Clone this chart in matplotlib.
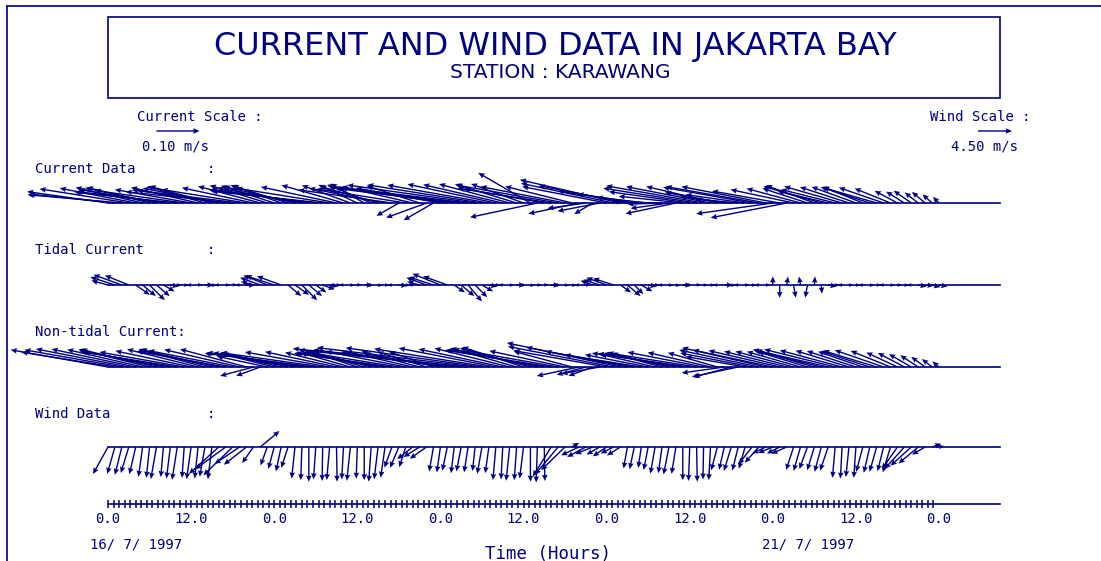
import numpy as np
import matplotlib
matplotlib.use("Agg")
import matplotlib.pyplot as plt

navy = "#000080"
W, H = 1101, 561

# hourly records, 16/7/1997 00:00 -> 21/7/1997 00:00
hours = np.arange(0, 121)

# current data: speed (cm/s), direction towards (deg from north)
cur_spd = [19, 20, 22, 21, 18, 16, 15, 17, 20, 22, 24, 21, 18, 16, 14, 15, 18, 22, 25, 24, 20, 17, 15, 14,
           13, 12, 14, 17, 20, 23, 25, 26, 22, 18, 15, 12, 10, 9, 11, 14, 18, 22, 6, 21, 17, 13, 10, 8,
           20, 25, 28, 31, 33, 30, 27, 24, 21, 19, 17, 15, 13, 14, 16, 19, 22, 24, 20, 16, 12, 9, 5, 10,
           20, 22, 24, 21, 18, 15, 12, 10, 8, 9, 12, 15, 19, 22, 23, 20, 17, 14, 12, 10, 14, 21, 22, 20,
           18, 16, 18, 15, 13, 11, 12, 14, 12, 13, 14, 12, 11, 10, 12, 13, 11, 9, 6, 5, 5, 4, 4, 3, 2]
cur_dir = [278, 276, 275, 279, 281, 283, 284, 282, 279, 277, 276, 278, 280, 283, 286, 285, 281, 278, 276, 277, 279, 282, 285, 287,
           288, 290, 287, 283, 280, 278, 277, 276, 279, 282, 286, 290, 295, 300, 293, 286, 281, 278, 240, 279, 283, 288, 250, 240,
           280, 278, 277, 277, 277, 278, 279, 280, 282, 283, 285, 287, 290, 300, 258, 280, 279, 280, 281, 284, 258, 262, 239, 259,
           281, 282, 283, 281, 279, 278, 276, 272, 268, 262, 258, 276, 278, 279, 280, 281, 283, 280, 277, 275, 278, 280, 280, 281,
           262, 280, 259, 282, 285, 288, 290, 286, 283, 284, 286, 288, 290, 292, 288, 286, 289, 292, 298, 302, 305, 308, 310, 312, 315]

# tidal current
tid_spd = [4, 6, 7, 6, 4, 4, 5, 4, 3, 2, 1, 1, 1, 1, 2, 1, 1, 1, 1, 1, 2, 3, 5, 6,
           7, 6, 4, 4, 5, 4, 3, 3, 2, 1, 1, 1, 1, 2, 1, 1, 1, 1, 2, 1, 1, 3, 5, 6,
           7, 6, 3, 4, 5, 4, 3, 2, 1, 1, 1, 2, 1, 1, 1, 1, 2, 1, 1, 1, 1, 1, 3, 4,
           5, 5, 3, 4, 3, 3, 2, 1, 1, 1, 1, 2, 1, 1, 1, 1, 1, 2, 1, 1, 1, 1, 1, 1,
           2, 3, 2, 3, 2, 3, 2, 2, 2, 1, 1, 1, 1, 1, 1, 1, 1, 1, 1, 1, 1, 2, 2, 2, 2]
tid_dir = [285, 288, 290, 292, 125, 130, 135, 130, 120, 100, 90, 95, 270, 85, 90, 100, 270, 90, 80, 270, 90, 285, 290, 292,
           288, 290, 130, 125, 135, 130, 125, 110, 100, 90, 270, 95, 85, 90, 270, 100, 90, 270, 95, 90, 270, 285, 290, 288,
           292, 290, 125, 130, 140, 135, 120, 100, 90, 270, 95, 90, 270, 100, 90, 85, 90, 270, 95, 100, 270, 90, 290, 288,
           290, 288, 125, 130, 135, 120, 100, 90, 270, 95, 100, 90, 270, 85, 90, 95, 270, 90, 100, 270, 90, 95, 270, 90,
           0, 180, 10, 170, 350, 190, 5, 175, 100, 90, 270, 95, 90, 270, 100, 90, 270, 95, 90, 100, 270, 100, 95, 105, 100]

# non-tidal current
res_spd = [23, 22, 23, 22, 20, 18, 17, 18, 20, 21, 22, 20, 18, 17, 16, 17, 19, 21, 20, 18, 16, 8, 6, 12,
           13, 14, 16, 18, 21, 24, 26, 24, 20, 17, 14, 12, 11, 13, 15, 18, 21, 23, 22, 19, 16, 14, 12, 11,
           18, 25, 33, 38, 41, 37, 32, 27, 23, 20, 18, 16, 15, 17, 20, 23, 25, 22, 18, 14, 10, 7, 6, 9,
           22, 25, 27, 24, 21, 18, 15, 13, 12, 14, 17, 20, 23, 21, 18, 15, 12, 10, 9, 11, 14, 17, 19, 20,
           19, 17, 15, 14, 13, 12, 14, 16, 18, 17, 15, 13, 12, 11, 12, 13, 12, 10, 8, 7, 6, 5, 4, 3, 2]
res_dir = [280, 279, 280, 281, 282, 283, 284, 283, 281, 280, 279, 280, 282, 284, 285, 284, 282, 280, 281, 283, 285, 255, 250, 282,
           284, 283, 282, 280, 279, 278, 277, 278, 280, 282, 284, 286, 288, 286, 284, 281, 279, 278, 279, 281, 283, 285, 287, 289,
           280, 278, 277, 276, 276, 277, 278, 279, 281, 282, 284, 286, 288, 285, 282, 280, 279, 280, 282, 285, 258, 255, 250, 260,
           280, 281, 282, 281, 280, 279, 281, 283, 285, 283, 281, 279, 278, 279, 281, 283, 286, 262, 255, 258, 280, 281, 282, 283,
           282, 283, 284, 285, 286, 287, 286, 284, 283, 284, 285, 287, 288, 289, 288, 287, 289, 292, 295, 298, 300, 303, 306, 308, 310]

# wind: speed (m/s), direction towards (deg from north)
wind_spd = [4.1, 3.7, 3.8, 3.6, 3.7, 4.0, 4.1, 4.3, 4.0, 4.2, 4.4, 4.1, 4.3, 4.2, 4.0, 4.3,
            5.3, 5.0, 5.4, 4.0, 3.8, 2.6, 3.3, 2.6, 3.0, 3.3, 2.9,
            4.2, 4.4, 4.6, 4.3, 4.5, 4.4, 4.6, 4.3, 4.5, 4.2, 4.4, 4.6, 4.3, 4.1,
            2.9, 3.0, 2.8, 2.6, 2.5, 2.7, 3.3, 3.4, 3.2, 3.5, 3.3, 3.4, 3.2, 3.6, 3.5,
            4.4, 4.3, 4.5, 4.4, 4.2, 4.6, 4.7, 4.5, 4.6, 4.8, 4.4, 1.1, 2.6, 2.8, 2.5,
            2.0, 2.2, 1.9, 2.1, 2.9, 3.0, 2.8, 3.1, 3.6, 3.5, 3.7, 3.6,
            4.4, 4.5, 4.6, 4.3, 4.4, 3.2, 3.1, 3.3, 3.2, 3.0, 2.9, 2.8,
            2.0, 2.1, 1.9, 2.2, 3.2, 3.3, 3.1, 3.2, 3.4, 3.3, 4.1, 4.2, 4.0, 4.1,
            3.4, 3.5, 3.4, 3.3, 3.5, 3.6, 3.9, 3.7, 3.4, 2.0, 1.3, 0.7]
wind_dir = [209, 196, 194, 197, 193, 188, 186, 190, 185, 187, 189, 184, 188, 186, 190, 187,
            228, 234, 226, 236, 232, 215, 50, 200, 195, 192, 198,
            186, 182, 180, 184, 181, 185, 179, 183, 186, 182, 180, 184, 187, 188,
            200, 203, 198, 232, 238, 235, 190, 188, 192, 187, 191, 189, 186, 190, 188,
            185, 183, 186, 184, 187, 180, 182, 179, 212, 220, 226, 60, 245, 242, 248,
            240, 236, 243, 238, 190, 192, 188, 191, 190, 188, 191, 189,
            180, 182, 179, 181, 183, 195, 193, 197, 194, 196, 218, 222,
            245, 248, 243, 246, 198, 196, 200, 197, 195, 199, 185, 183, 186, 184,
            195, 193, 196, 194, 197, 215, 222, 228, 230, 240, 70, 80]

tick_hours = np.arange(0, 121, 12)
tick_labels = ["0.0", "12.0", "0.0", "12.0", "0.0", "12.0", "0.0", "12.0", "0.0", "12.0", "0.0"]


def uv(spd, dirn):
    s = np.asarray(spd, float)
    d = np.radians(np.asarray(dirn, float))
    return s * np.sin(d), s * np.cos(d)


px_per_h = 83.1 / 12
x0 = 108

fig = plt.figure(figsize=(W / 100, H / 100), dpi=100)
ax = fig.add_axes([0, 0, 1, 1])
ax.set_xlim(-x0 / px_per_h, (W - x0) / px_per_h)
ax.set_ylim(0, H)
ax.axis("off")

t_end = (1000 - x0) / px_per_h
rows = {"cur": H - 203, "tid": H - 285, "res": H - 367, "wind": H - 447}

qkw = dict(angles="uv", scale_units="inches", units="dots", width=1.4,
           headwidth=4, headlength=4.5, headaxislength=4, minlength=0.3,
           color=navy, pivot="tail", zorder=3)

cur_scale = 10 / 0.43     # 0.10 m/s -> 43 px
wind_scale = 4.5 / 0.34   # 4.50 m/s -> 34 px

for key, spd, dirn in [("cur", cur_spd, cur_dir), ("tid", tid_spd, tid_dir), ("res", res_spd, res_dir)]:
    u, v = uv(spd, dirn)
    ax.plot([0, t_end], [rows[key]] * 2, color=navy, lw=1.2)
    q = ax.quiver(hours, np.full(len(hours), rows[key]), u, v, scale=cur_scale, **qkw)
    if key == "cur":
        q_cur = q

u, v = uv(wind_spd, wind_dir)
ax.plot([0, t_end], [rows["wind"]] * 2, color=navy, lw=1.2)
q_wind = ax.quiver(hours, np.full(len(hours), rows["wind"]), u, v, scale=wind_scale, **qkw)

# time axis
ya = H - 504
ax.plot([0, t_end], [ya, ya], color=navy, lw=1.2)
ax.plot(np.arange(0, 120, 0.8), np.full(150, ya), "|", color=navy, ms=6, mew=1.1)

mono = dict(family="DejaVu Sans Mono", color=navy, fontsize=10)
for th, lab in zip(tick_hours, tick_labels):
    ax.text(th, H - 523, lab, ha="center", va="baseline", **mono)


def ftext(xp, yp, s, **kw):
    fig.text(xp / W, 1 - yp / H, s, **kw)


ftext(90, 548, "16/ 7/ 1997", ha="left", va="baseline", **mono)
ftext(762, 548, "21/ 7/ 1997", ha="left", va="baseline", **mono)
ftext(548, 559, "Time (Hours)", ha="center", va="baseline",
      family="DejaVu Sans Mono", color=navy, fontsize=12.5)

# row labels
ftext(35, 173, "Current Data", ha="left", va="baseline", **mono)
ftext(207, 173, ":", ha="left", va="baseline", **mono)
ftext(35, 254, "Tidal Current", ha="left", va="baseline", **mono)
ftext(207, 254, ":", ha="left", va="baseline", **mono)
ftext(35, 336, "Non-tidal Current:", ha="left", va="baseline", **mono)
ftext(35, 418, "Wind Data", ha="left", va="baseline", **mono)
ftext(207, 418, ":", ha="left", va="baseline", **mono)

# scales
ftext(137, 121, "Current Scale :", ha="left", va="baseline", **mono)
ftext(1030, 121, "Wind Scale :", ha="right", va="baseline", **mono)
ax.quiverkey(q_cur, 178 / W, 1 - 131 / H, 10, " ", coordinates="figure", labelpos="S")
ax.quiverkey(q_wind, 995 / W, 1 - 131 / H, 4.5, " ", coordinates="figure", labelpos="S")
ftext(142, 150, "0.10 m/s", ha="left", va="baseline", **mono)
ftext(1018, 150, "4.50 m/s", ha="right", va="baseline", **mono)

# title box
fig.add_artist(plt.Rectangle((108 / W, 1 - 98 / H), 892 / W, 81 / H, transform=fig.transFigure,
                             fill=False, ec=navy, lw=1.2))
ftext(555, 55, "CURRENT AND WIND DATA IN JAKARTA BAY", ha="center", va="baseline",
      family="DejaVu Sans", color=navy, fontsize=23)
ftext(560, 78, "STATION : KARAWANG", ha="center", va="baseline",
      family="DejaVu Sans", color=navy, fontsize=14.5)

# page frame (left and top edges)
fig.add_artist(plt.Line2D([7 / W, 7 / W], [0, 1 - 6 / H], transform=fig.transFigure, color=navy, lw=1.2))
fig.add_artist(plt.Line2D([7 / W, 1], [1 - 6 / H, 1 - 6 / H], transform=fig.transFigure, color=navy, lw=1.2))

fig.savefig("out.png", dpi=100, facecolor="white")
